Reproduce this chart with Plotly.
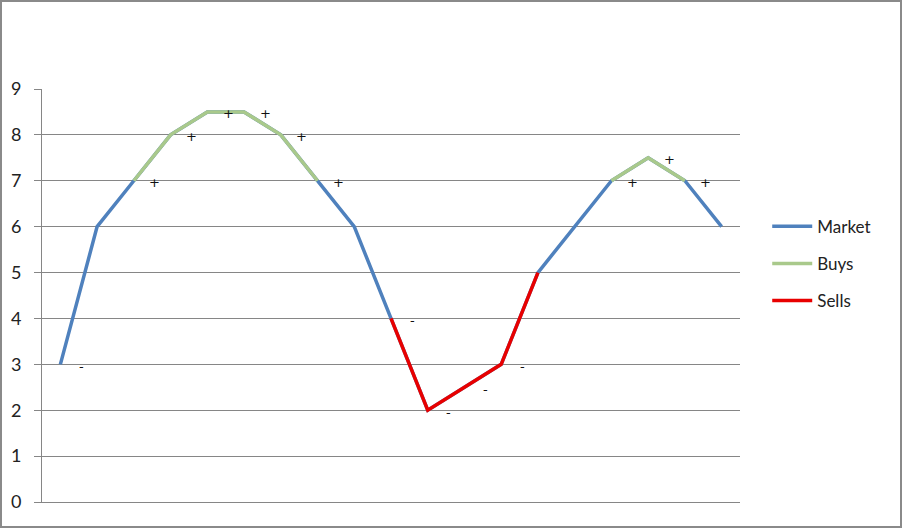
import plotly.graph_objects as go

# data
periods = list(range(1, 20))
market = [3, 6, 7, 8, 8.5, 8.5, 8, 7, 6, 4, 2, 2.5, 3, 5, 6, 7, 7.5, 7, 6]
buys = [None, None, 7, 8, 8.5, 8.5, 8, 7, None, None, None, None, None, None, None, 7, 7.5, 7, None]
sells = [None, None, None, None, None, None, None, None, None, 4, 2, 2.5, 3, 5, None, None, None, None, None]
signals = ["-", "", "+", "+", "+", "+", "+", "+", "", "-", "-", "-", "-", "", "", "+", "+", "+", ""]

W, H = 902, 528
ML, MR, MT, MB = 42, 162, 89, 26
FONT = "Lato, 'Open Sans', sans-serif"

fig = go.Figure()
fig.add_trace(go.Scatter(x=periods, y=market, mode="lines", name="Market",
                         line=dict(color="#4F81BD", width=3.5), legendgroup="m"))
fig.add_trace(go.Scatter(x=periods, y=buys, mode="lines", name="Buys",
                         line=dict(color="#A9C98B", width=3.5), legendgroup="b"))
fig.add_trace(go.Scatter(x=periods, y=sells, mode="lines", name="Sells",
                         line=dict(color="#E80000", width=3.5), legendgroup="s"))

# +/- signal labels sit just right of each market point
for p, v, s in zip(periods, market, signals):
    if s:
        fig.add_annotation(x=p, y=v, text=s, showarrow=False, xshift=21, yshift=-2,
                           font=dict(family="DejaVu Sans", size=13, color="#111"))

# outer chart border
pw, ph = W - ML - MR, H - MT - MB
fig.add_shape(type="rect", xref="paper", yref="paper",
              x0=(1 - ML) / pw, x1=(W - 1 - ML) / pw,
              y0=-(MB - 1) / ph, y1=1 + (MT - 1) / ph,
              line=dict(color="#8A8A8A", width=2), layer="below")

fig.update_layout(
    width=W, height=H,
    margin=dict(l=ML, r=MR, t=MT, b=MB),
    plot_bgcolor="white", paper_bgcolor="white",
    font=dict(family=FONT, color="#222"),
    legend=dict(x=1.039, y=0.71, xanchor="left", yanchor="top", itemwidth=40,
                font=dict(size=17, color="#222"), tracegroupgap=12,
                bgcolor="rgba(0,0,0,0)"),
)
fig.update_xaxes(range=[0.5, 19.5], showticklabels=False, showgrid=False,
                 showline=True, linecolor="#868686", linewidth=1, ticks="", zeroline=False)
fig.update_yaxes(range=[0, 9], dtick=1, showgrid=True, gridcolor="#868686", gridwidth=1,
                 showline=True, linecolor="#868686", linewidth=1, ticks="outside",
                 ticklen=7, tickcolor="#868686", zeroline=False, ticklabelstandoff=9,
                 tickfont=dict(size=18, color="#222"))

fig.write_html("out.html", config={"displayModeBar": False},
               post_script="document.body.style.margin='0';")
